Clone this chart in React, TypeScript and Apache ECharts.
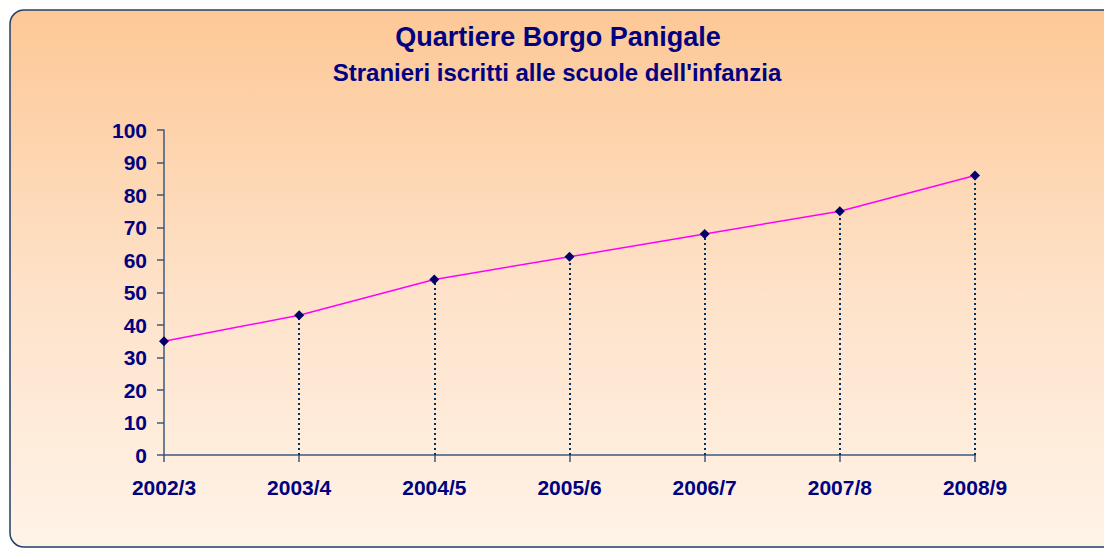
import React, { useEffect, useRef } from "react";
import * as echarts from "echarts";

const titleText = "Quartiere Borgo Panigale";
const subtitleText = "Stranieri iscritti alle scuole dell'infanzia";
const categories = ["2002/3", "2003/4", "2004/5", "2005/6", "2006/7", "2007/8", "2008/9"];
const values = [35, 43, 54, 61, 68, 75, 86];

const FONT = "'Liberation Sans', Arial, sans-serif";
const NAVY = "#000080";

export default function App() {
  const ref = useRef<HTMLDivElement>(null);
  useEffect(() => {
    if (!ref.current) return;
    const chart = echarts.init(ref.current, undefined, { renderer: "svg" });
    chart.setOption({
      animation: false,
      backgroundColor: "#ffffff",
      graphic: [
        {
          type: "rect",
          z: -10,
          silent: true,
          shape: { x: 10, y: 10, width: 1120, height: 537, r: 14 },
          style: {
            fill: new echarts.graphic.LinearGradient(0, 0, 0, 1, [
              { offset: 0, color: "#fdc896" },
              { offset: 0.55, color: "#fee3cb" },
              { offset: 1, color: "#fff3e8" },
            ]),
            stroke: "#1f3f6a",
            lineWidth: 1.5,
          },
        },
        {
          type: "text",
          x: 558,
          y: 37,
          style: {
            text: titleText,
            fill: NAVY,
            font: `bold 27px ${FONT}`,
            align: "center",
            verticalAlign: "middle",
          },
        },
        {
          type: "text",
          x: 557,
          y: 72,
          style: {
            text: subtitleText,
            fill: NAVY,
            font: `bold 24px ${FONT}`,
            align: "center",
            verticalAlign: "middle",
          },
        },
      ],
      grid: { left: 164, right: 129, top: 130, bottom: 93, containLabel: false },
      xAxis: {
        type: "category",
        data: categories,
        boundaryGap: false,
        axisLine: { lineStyle: { color: "#3b5a7a", width: 1.5 } },
        axisTick: { show: true, length: 7, alignWithLabel: true, lineStyle: { color: "#3b5a7a", width: 1.5 } },
        axisLabel: { color: NAVY, fontWeight: "bold", fontSize: 21, fontFamily: FONT, margin: 22 },
        splitLine: { show: false },
      },
      yAxis: {
        type: "value",
        min: 0,
        max: 100,
        interval: 10,
        axisLine: { show: true, lineStyle: { color: "#3b5a7a", width: 1.5 } },
        axisTick: { show: true, length: 7, lineStyle: { color: "#3b5a7a", width: 1.5 } },
        axisLabel: { color: NAVY, fontWeight: "bold", fontSize: 21, fontFamily: FONT, margin: 17 },
        splitLine: { show: false },
      },
      series: [
        {
          type: "line",
          data: values,
          symbol: "diamond",
          symbolSize: 10,
          itemStyle: { color: "#000066" },
          lineStyle: { color: "#ff00ff", width: 1.5 },
          z: 5,
          markLine: {
            silent: true,
            symbol: "none",
            label: { show: false },
            lineStyle: { color: "#00305f", width: 2, type: [2, 3] },
            data: values
              .map((v, i) => [{ coord: [i, 0] }, { coord: [i, v] }])
              .filter((_, i) => i > 0),
          },
        },
      ],
    });
    return () => chart.dispose();
  }, []);
  return (
    <div
      ref={ref}
      style={{ position: "fixed", left: 0, top: 0, width: 1104, height: 548 }}
    />
  );
}
